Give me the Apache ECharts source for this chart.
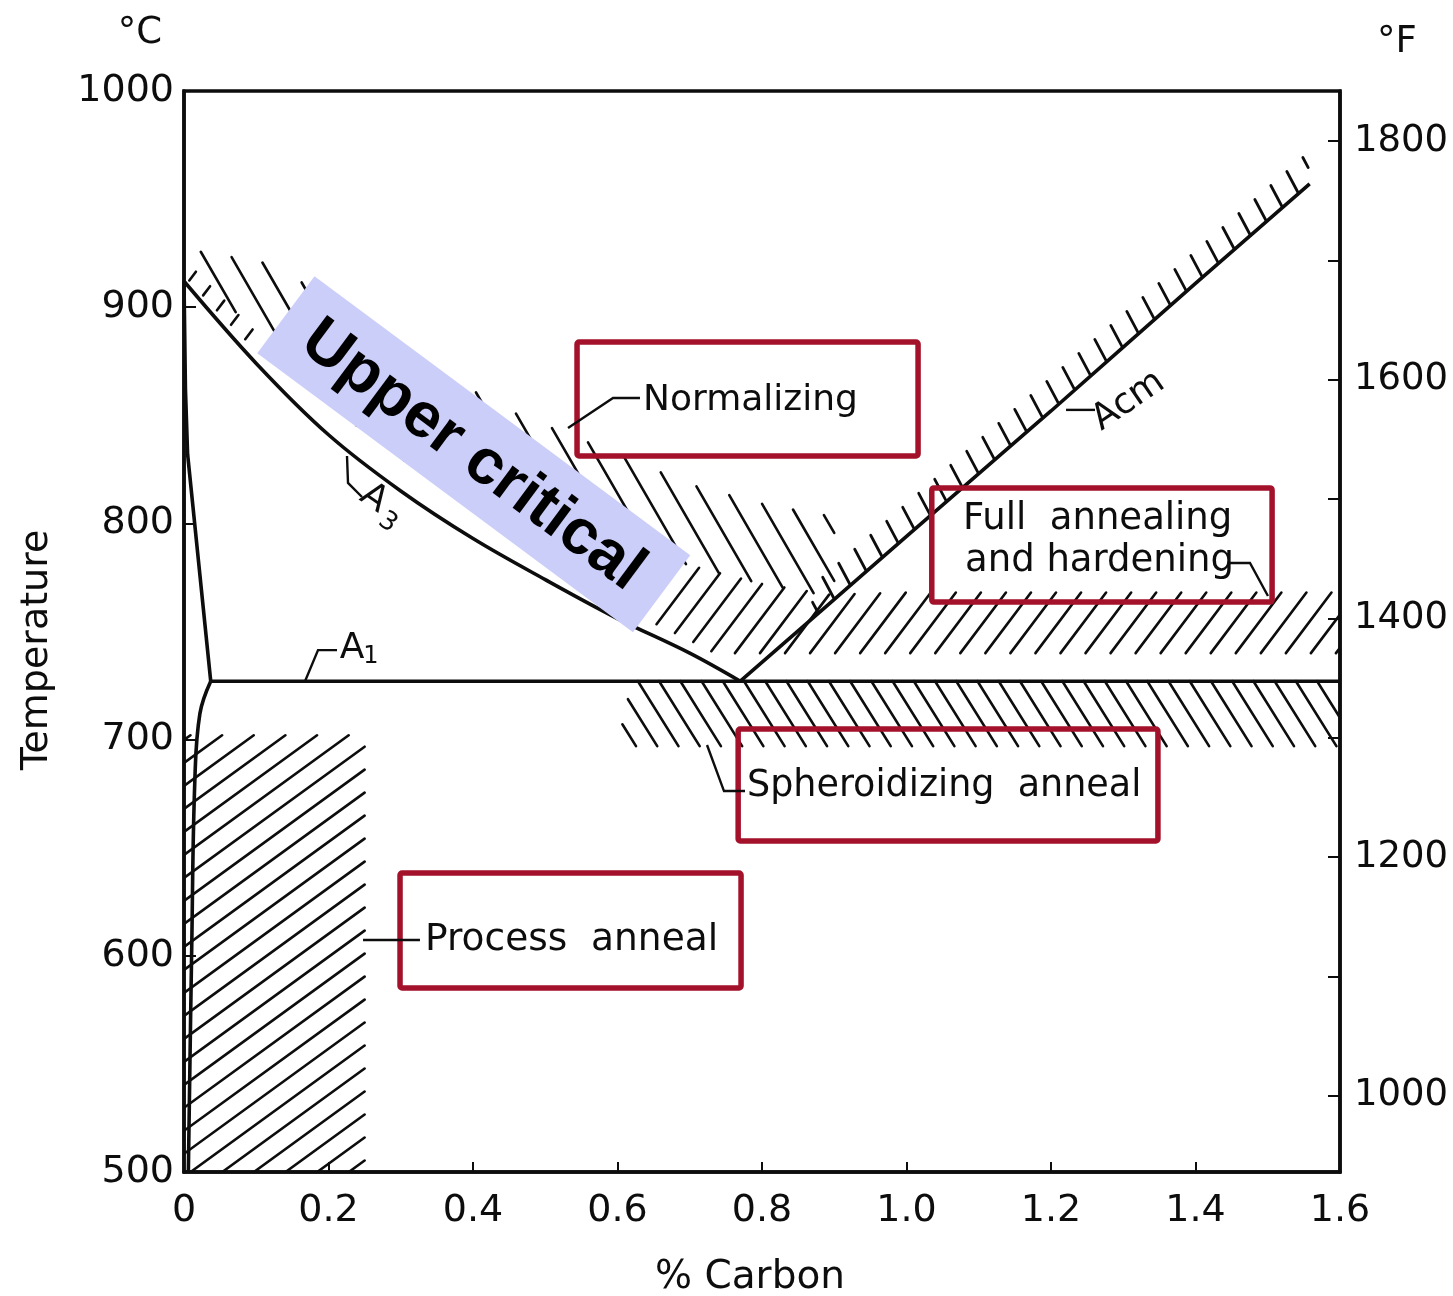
<!DOCTYPE html>
<html>
<head>
<meta charset="utf-8">
<script src="https://cdn.jsdelivr.net/npm/echarts@6/dist/echarts.min.js"></script>
<style>
html,body{margin:0;padding:0;background:#fff;}
#c{width:1453px;height:1296px;}
</style>
</head>
<body>
<div id="c"></div>
<script>
// ================= DATA =================
const xTicks = [0, 0.2, 0.4, 0.6, 0.8, 1.0, 1.2, 1.4, 1.6];
const xTickLabels = ['0', '0.2', '0.4', '0.6', '0.8', '1.0', '1.2', '1.4', '1.6'];
const cTickLabels = [500, 600, 700, 800, 900, 1000];
const fTicks = [1000, 1100, 1200, 1300, 1400, 1500, 1600, 1700, 1800];
const fTickLabels = [1000, 1200, 1400, 1600, 1800];

// phase boundaries [% C, °C]
const a3Line = [[0, 912], [0.1, 874], [0.2, 841], [0.3, 815], [0.4, 793], [0.5, 774], [0.6, 756], [0.7, 740], [0.77, 727]];
const acmLine = [[0.77, 727], [1.0, 794], [1.2, 852], [1.4, 911], [1.558, 957]];
const a1Line = [[0.037, 727], [1.6, 727]];
const ferriteLine = [[0, 912], [0.002, 862], [0.005, 832], [0.037, 727]];
const solvusLine = [[0.037, 727], [0.022, 712], [0.015, 681], [0.0107, 604], [0.006, 500]];

// heat-treatment ranges (hatched areas) [% C, °C]
const processAnnealArea = [[0, 500], [0, 702], [0.25, 702], [0.25, 500]];
const fullAnnealArea = [[0.6, 790], [0.718, 779], [0.8, 772], [0.894, 767], [1.0, 768], [1.6, 768],
                        [1.6, 740], [0.735, 740], [0.7, 746], [0.65, 754], [0.6, 763]];
const fullAnnealLowC = [[0, 915], [0.05, 897], [0.1, 880], [0.1, 888], [0.05, 905], [0, 922]];
const normalizingArea = [[0, 927], [0.12, 920], [0.18, 908], [0.3, 880], [0.45, 852], [0.57, 836], [0.7, 818], [0.8, 809], [0.9, 803],
                         [0.9, 766], [0.8, 772], [0.718, 779], [0.6, 790], [0.5, 800], [0.4, 812], [0.3, 830], [0.2, 855], [0.1, 888], [0.05, 905], [0, 922]];
const normalizingHighC = [[0.87, 756.6], [1.556, 957], [1.556, 971.4], [0.87, 771]];
const spheroidizeArea = [[0.62, 727], [1.6, 727], [1.6, 697], [0.6, 697]];

// ================= STYLE / LAYOUT =================
const FONT = '"DejaVu Sans", sans-serif';
const INK = '#0d0d0d';
const RED = '#a3112b';

const hatchStyle = {
  process:     {angle: 36, dir: 1,  spacing: 18.6, width: 2.6},
  fullAnneal:  {angle: 53, dir: 1,  spacing: 20,   width: 2.6},
  normalizing: {angle: 60, dir: -1, spacing: 24,   width: 2.6},
  acm:         {angle: 62, dir: -1, spacing: 20.7, width: 2.8},
  spheroidize: {angle: 58, dir: -1, spacing: 18,   width: 2.6}
};
const hatchRegions = [
  {poly: processAnnealArea, style: hatchStyle.process},
  {poly: fullAnnealArea, style: hatchStyle.fullAnneal},
  {poly: fullAnnealLowC, style: hatchStyle.fullAnneal},
  {poly: normalizingArea, style: hatchStyle.normalizing},
  {poly: normalizingHighC, style: hatchStyle.acm},
  {poly: spheroidizeArea, style: hatchStyle.spheroidize}
];

// annotation layout, anchored in data units
const layout = {
  frames: [
    [[0.544, 883.9], [1.016, 831.2]],
    [[1.035, 816.4], [1.506, 763.6]],
    [[0.767, 704.9], [1.348, 653.1]],
    [[0.299, 638.3], [0.771, 585.1]]
  ],
  texts: [
    {at: [0.6353, 856.6], text: 'Normalizing', size: 36},
    {at: [1.0782, 802.0], text: 'Full  annealing', size: 37},
    {at: [1.081, 782.6], text: 'and hardening', size: 37},
    {at: [0.7792, 678.5], text: 'Spheroidizing  anneal', size: 36.5},
    {at: [0.3336, 607.3], text: 'Process  anneal', size: 37.5}
  ],
  leaders: [
    [[0.6311, 858.0], [0.5938, 858.0], [0.5315, 844.1]],
    [[1.445, 781.7], [1.4754, 781.7], [1.5003, 766.4]],
    [[0.7239, 697.5], [0.7474, 676.2], [0.7765, 676.2]],
    [[0.2478, 607.3], [0.3266, 607.3]],
    [[0.2256, 831.2], [0.227, 818.7], [0.2464, 812.2]],
    [[0.1675, 727], [0.1855, 741.4], [0.2118, 741.4]],
    [[1.2208, 852.5], [1.2609, 852.5]]
  ],
  a3Label: {at: [0.2625, 811.5], rot: -0.6},
  a1Label: {at: [0.2325, 742.3]},
  acmLabel: {at: [1.2761, 849.4], rot: 0.6},
  upperCritical: {at: [0.401, 832.0], w: 468, h: 96, rot: -36.6 * Math.PI / 180}
};

// ================= HELPERS =================
function hatchSegs(pts, angDeg, dirSign, spacing) {
  const a = angDeg * Math.PI / 180;
  const d = [Math.cos(a), -dirSign * Math.sin(a)];
  const n = [-d[1], d[0]];
  let smin = Infinity, smax = -Infinity;
  pts.forEach(p => { const s = p[0] * n[0] + p[1] * n[1]; smin = Math.min(smin, s); smax = Math.max(smax, s); });
  const segs = [];
  for (let k = Math.ceil(smin / spacing); k * spacing <= smax; k++) {
    const s = k * spacing, ts = [];
    for (let i = 0; i < pts.length; i++) {
      const A = pts[i], B = pts[(i + 1) % pts.length];
      const sa = A[0] * n[0] + A[1] * n[1] - s, sb = B[0] * n[0] + B[1] * n[1] - s;
      if ((sa < 0) !== (sb < 0)) {
        const f = sa / (sa - sb);
        const px = A[0] + f * (B[0] - A[0]), py = A[1] + f * (B[1] - A[1]);
        ts.push(px * d[0] + py * d[1]);
      }
    }
    ts.sort((u, v) => u - v);
    for (let j = 0; j + 1 < ts.length; j += 2) {
      segs.push([s * n[0] + ts[j] * d[0], s * n[1] + ts[j] * d[1], s * n[0] + ts[j + 1] * d[0], s * n[1] + ts[j + 1] * d[1]]);
    }
  }
  return segs;
}

function curve(name, data, smooth) {
  return {
    name: name, type: 'line', data: data, smooth: smooth, showSymbol: false, symbol: 'none',
    lineStyle: {color: INK, width: 3.6}, z: 3, silent: true, animation: false
  };
}

// ================= CHART =================
const chart = echarts.init(document.getElementById('c'));

const option = {
  animation: false,
  backgroundColor: '#ffffff',
  grid: {left: 184, right: 113, top: 91, bottom: 124, show: true, borderColor: INK, borderWidth: 3.5,
         backgroundColor: 'transparent', outerBoundsMode: 'none'},
  xAxis: {
    type: 'value', min: 0, max: 1.6, interval: 0.2,
    axisLine: {show: true, onZero: false, lineStyle: {color: INK, width: 3.5}},
    axisTick: {show: true, inside: true, length: 10, lineStyle: {color: INK, width: 2}},
    axisLabel: {margin: 20, fontSize: 38, fontFamily: FONT, color: INK, showMinLabel: true, showMaxLabel: true,
                formatter: v => { const i = xTicks.findIndex(t => Math.abs(t - v) < 1e-6); return i >= 0 ? xTickLabels[i] : ''; }},
    splitLine: {show: false}
  },
  yAxis: [
    {
      type: 'value', min: 500, max: 1000, interval: 100, position: 'left',
      axisLine: {show: true, onZero: false, lineStyle: {color: INK, width: 3.5}},
      axisTick: {show: true, inside: true, length: 12, lineStyle: {color: INK, width: 2}},
      axisLabel: {margin: 10, fontSize: 38, fontFamily: FONT, color: INK, showMinLabel: true, showMaxLabel: true,
                  formatter: v => cTickLabels.indexOf(v) >= 0 ? String(v) : ''},
      splitLine: {show: false}
    },
    {
      type: 'value', min: 936, max: 1842, position: 'right',
      axisLine: {show: true, onZero: false, lineStyle: {color: INK, width: 3.5}},
      axisTick: {show: true, inside: true, length: 12, customValues: fTicks, lineStyle: {color: INK, width: 2}},
      axisLabel: {margin: 14, fontSize: 37, fontFamily: FONT, color: INK, customValues: fTickLabels,
                  formatter: v => String(Math.round(v))},
      splitLine: {show: false}
    }
  ],
  graphic: [
    {type: 'text', x: 140, y: 33, style: {text: '°C', font: '37px ' + FONT, fill: INK, align: 'center', verticalAlign: 'middle'}},
    {type: 'text', x: 1397, y: 42, style: {text: '°F', font: '37px ' + FONT, fill: INK, align: 'center', verticalAlign: 'middle'}},
    {type: 'text', x: 37, y: 650, rotation: Math.PI / 2, style: {text: 'Temperature', font: '38px ' + FONT, fill: INK, align: 'center', verticalAlign: 'middle'}},
    {type: 'text', x: 750, y: 1278, style: {text: '% Carbon', font: '39px ' + FONT, fill: INK, align: 'center', verticalAlign: 'middle'}}
  ],
  series: [
    {
      type: 'custom', name: 'hatch', z: 1, silent: true, clip: true,
      data: hatchRegions.map(r => r.poly[0]),
      encode: {x: 0, y: 1},
      renderItem: function (params, api) {
        const r = hatchRegions[params.dataIndex];
        const pts = r.poly.map(p => api.coord(p));
        const segs = hatchSegs(pts, r.style.angle, r.style.dir, r.style.spacing);
        return {
          type: 'group',
          children: segs.map(s => ({type: 'line', shape: {x1: s[0], y1: s[1], x2: s[2], y2: s[3]},
                                     style: {stroke: INK, lineWidth: r.style.width, lineCap: 'round'}}))
        };
      }
    },
    curve('A3', a3Line, 0.35),
    curve('Acm', acmLine, 0.2),
    curve('A1', a1Line, false),
    curve('ferrite', ferriteLine, false),
    curve('solvus', solvusLine, 0.4),
    {
      type: 'custom', name: 'upper critical', z: 5, silent: true,
      data: [layout.upperCritical.at],
      encode: {x: 0, y: 1},
      renderItem: function (params, api) {
        const u = layout.upperCritical;
        const c = api.coord(u.at);
        return {
          type: 'group', x: c[0], y: c[1], rotation: u.rot,
          children: [
            {type: 'rect', shape: {x: -u.w / 2, y: -u.h / 2, width: u.w, height: u.h}, style: {fill: '#cbcef9'}},
            {type: 'text', x: 0, y: 2, style: {text: 'Upper critical', font: 'bold 64px "Liberation Sans", Arial, sans-serif',
                                              fill: '#000', align: 'center', verticalAlign: 'middle'}}
          ]
        };
      }
    },
    {
      type: 'custom', name: 'annotations', z: 6, silent: true,
      data: [layout.texts[0].at],
      encode: {x: 0, y: 1},
      renderItem: function (params, api) {
        const kids = [];
        layout.frames.forEach(f => {
          const p0 = api.coord(f[0]), p1 = api.coord(f[1]);
          kids.push({type: 'rect', shape: {x: p0[0], y: p0[1], width: p1[0] - p0[0], height: p1[1] - p0[1], r: 2},
                     style: {fill: 'none', stroke: RED, lineWidth: 5.5}});
        });
        layout.leaders.forEach(l => {
          kids.push({type: 'polyline', shape: {points: l.map(p => api.coord(p))},
                     style: {fill: 'none', stroke: INK, lineWidth: 2.4}});
        });
        layout.texts.forEach(t => {
          const p = api.coord(t.at);
          kids.push({type: 'text', x: p[0], y: p[1], style: {text: t.text, font: t.size + 'px ' + FONT, fill: INK,
                     align: 'left', verticalAlign: 'middle'}});
        });
        const a3 = api.coord(layout.a3Label.at);
        kids.push({type: 'group', x: a3[0], y: a3[1], rotation: layout.a3Label.rot, children: [
          {type: 'text', x: 0, y: 0, style: {text: 'A', font: '36px ' + FONT, fill: INK, align: 'center', verticalAlign: 'middle'}},
          {type: 'text', x: 25, y: 12, style: {text: '3', font: '26px ' + FONT, fill: INK, align: 'center', verticalAlign: 'middle'}}
        ]});
        const a1 = api.coord(layout.a1Label.at);
        kids.push({type: 'group', x: a1[0], y: a1[1], children: [
          {type: 'text', x: 0, y: 0, style: {text: 'A', font: '36px ' + FONT, fill: INK, align: 'center', verticalAlign: 'middle'}},
          {type: 'text', x: 19, y: 9, style: {text: '1', font: '24px ' + FONT, fill: INK, align: 'center', verticalAlign: 'middle'}}
        ]});
        const acm = api.coord(layout.acmLabel.at);
        kids.push({type: 'group', x: acm[0], y: acm[1], rotation: layout.acmLabel.rot, children: [
          {type: 'text', x: -12, y: 0, style: {text: 'Acm', font: '36px ' + FONT, fill: INK, align: 'left', verticalAlign: 'middle'}}
        ]});
        return {type: 'group', children: kids};
      }
    }
  ]
};
chart.setOption(option);
</script>
</body>
</html>
